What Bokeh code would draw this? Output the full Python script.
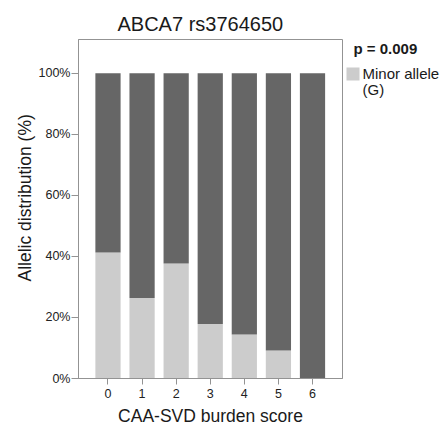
from bokeh.plotting import figure
from bokeh.layouts import row
from bokeh.models import (Range1d, Label, FixedTicker, Title,
                          PrintfTickFormatter, ColumnDataSource)
from bokeh.embed import file_html
from bokeh.resources import INLINE

# ---- data ----
scores = [0, 1, 2, 3, 4, 5, 6]
minor_pct = [41.3, 26.4, 37.7, 17.9, 14.4, 9.2, 0.0]
total_pct = [100, 100, 100, 100, 100, 100, 100]
y_ticks = [0, 20, 40, 60, 80, 100]
title_text = "ABCA7 rs3764650"
x_title = "CAA-SVD burden score"
y_title = "Allelic distribution (%)"
p_text = "p = 0.009"
legend_lines = ["Minor allele", "(G)"]

LIGHT = "#cccccc"
DARK = "#666666"
FRAME = "#939393"
FONT = "Liberation Sans"
TXT = "#1a1a1a"

W, H = 441, 428
PW = 343                      # main figure width (frame right edge at 342)
BL, BR, BT, BB = 78, 1, 39, 49
X0, X1 = -0.865, 6.88
Y0, Y1 = 0, 111.1

src = ColumnDataSource(dict(score=scores, minor=minor_pct, total=total_pct))

p = figure(width=PW, height=H, output_backend="svg", toolbar_location=None,
           x_range=Range1d(X0, X1), y_range=Range1d(Y0, Y1),
           min_border_left=BL, min_border_right=BR,
           min_border_top=BT, min_border_bottom=BB)
p.frame_align = False
p.background_fill_color = "white"
p.border_fill_color = "white"
p.outline_line_color = FRAME
p.outline_line_width = 1
p.xgrid.visible = False
p.ygrid.visible = False

p.title.text = title_text
p.title.text_font = FONT
p.title.text_font_size = "20px"
p.title.text_font_style = "normal"
p.title.text_color = TXT
p.title.align = "left"
p.title.offset = 39
p.title.standoff = 10

light = p.vbar(x="score", bottom=0, top="minor", width=0.74, source=src,
               fill_color=LIGHT, line_color=None)
dark = p.vbar(x="score", bottom="minor", top="total", width=0.74, source=src,
              fill_color=DARK, line_color=None)

for ax in (p.xaxis[0], p.yaxis[0]):
    ax.axis_line_color = FRAME
    ax.major_tick_line_color = FRAME
    ax.minor_tick_line_color = None
    ax.major_tick_in = 0
    ax.major_label_text_font = FONT
    ax.major_label_text_font_size = "12.5px"
    ax.major_label_text_color = "#222222"

p.xaxis.ticker = FixedTicker(ticks=scores)
p.xaxis.major_tick_out = 6
p.xaxis.major_label_standoff = 4
p.xaxis.axis_label = x_title
p.xaxis.axis_label_text_font = FONT
p.xaxis.axis_label_text_font_size = "17.5px"
p.xaxis.axis_label_text_font_style = "normal"
p.xaxis.axis_label_text_color = TXT
p.xaxis.axis_label_standoff = 5

p.yaxis.ticker = FixedTicker(ticks=y_ticks)
p.yaxis.formatter = PrintfTickFormatter(format="%d%%")
p.yaxis.major_tick_out = 7
p.yaxis.major_label_standoff = 1

ytitle = Title(text=y_title, align="left", offset=97, text_font=FONT,
               text_font_size="17.5px", text_font_style="normal",
               text_color=TXT, standoff=2, vertical_align="bottom")
p.add_layout(ytitle, "left")

# ---- side panel: p-value and legend key (pixel-like coordinates) ----
side = figure(width=W - PW, height=H, output_backend="svg",
              toolbar_location=None, title_location=None,
              x_axis_type=None, y_axis_type=None,
              x_range=Range1d(PW, W), y_range=Range1d(H, 0),
              min_border=0)
side.frame_align = False
side.outline_line_color = None
side.xgrid.visible = False
side.ygrid.visible = False
side.background_fill_color = "white"
side.border_fill_color = "white"

side.quad(left=[346], right=[359], top=[67], bottom=[80],
          fill_color=LIGHT, line_color=None)
side.add_layout(Label(x=353, y=48.3, text=p_text, text_font=FONT,
                      text_font_size="15px", text_font_style="bold",
                      text_color=TXT, text_baseline="alphabetic"))
for i, line in enumerate(legend_lines):
    side.add_layout(Label(x=362, y=73.3 + 15.2 * i, text=line,
                          text_font=FONT, text_font_size="15px",
                          text_color=TXT, text_baseline="alphabetic"))

layout = row(p, side, spacing=0)
open("out.html", "w").write(file_html(layout, INLINE))
